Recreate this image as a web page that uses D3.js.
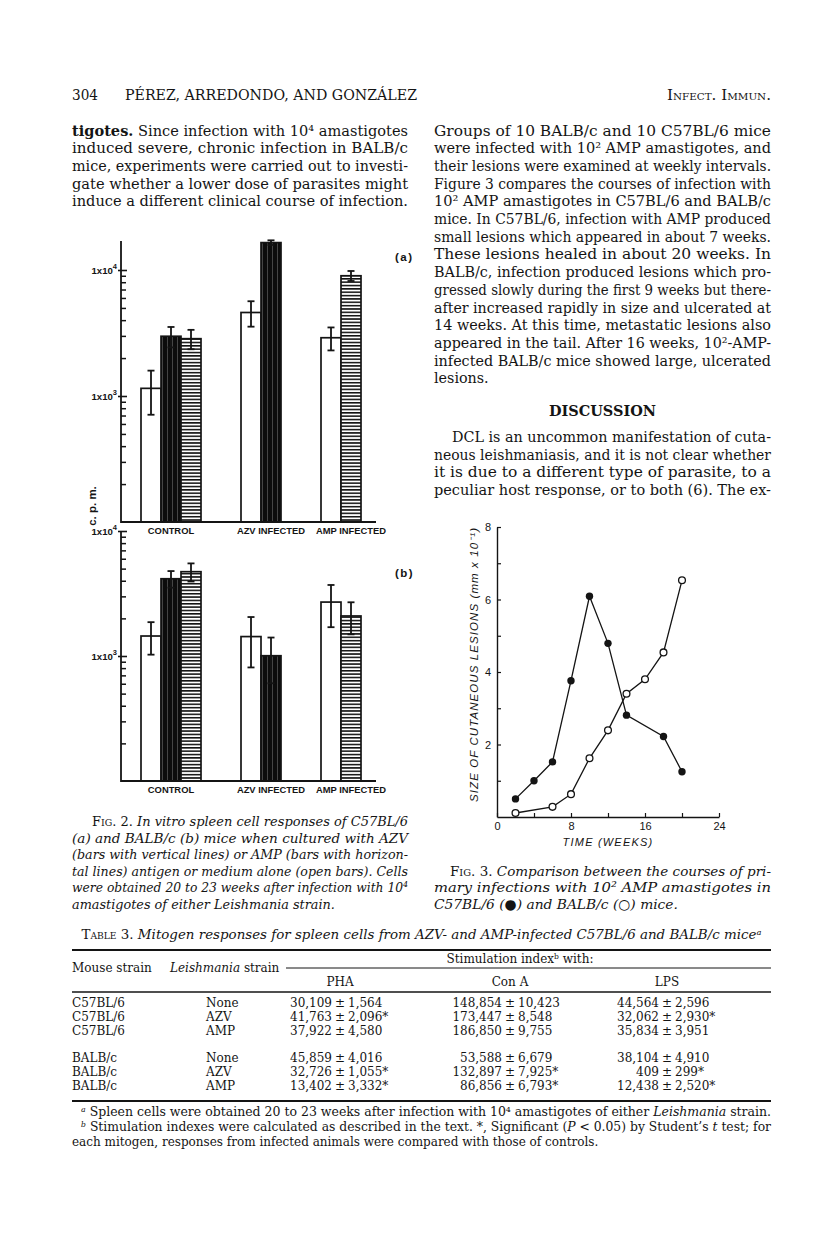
<!DOCTYPE html>
<html><head><meta charset="utf-8">
<script src="https://cdn.jsdelivr.net/npm/d3@7/dist/d3.min.js"></script>
<style>html,body{margin:0;padding:0;background:#fff}svg{display:block}</style>
</head><body>
<svg id="page" width="816" height="1245"></svg>
<script>
// ================= DATA =================
// Fig. 2 : c.p.m. (log scale), order of antigens: medium (open), AZV (vertical lines), AMP (horizontal lines)
const groups   = ["CONTROL", "AZV INFECTED", "AMP INFECTED"];
const antigens = ["medium", "AZV", "AMP"];
const c57Mean  = [[1150, 2980, 2850], [4600, 16500, null], [2900, null, 9000]];
const c57Err   = [[440, 550, 500], [1050, 700, null], [600, null, 820]];
const balbMean = [[1445, 4150, 4725], [1430, 1005, null], [2700, null, 2090]];
const balbErr  = [[420, 630, 780], [620, 400, null], [1000, null, 600]];
const logMajor = [1000, 10000];
const logMajorExp = ["3", "4"];
const logMinor = [200,300,400,500,600,700,800,900,2000,3000,4000,5000,6000,7000,8000,9000];

// Fig. 3 : size of cutaneous lesions (mm x 10^-1) vs time (weeks)
const weeksC57  = [2, 4, 6, 8, 10, 12, 14, 18, 20];
const sizeC57   = [0.50, 1.00, 1.52, 3.76, 6.09, 4.79, 2.81, 2.22, 1.25];
const weeksBALB = [2, 6, 8, 10, 12, 14, 16, 18, 20];
const sizeBALB  = [0.11, 0.28, 0.63, 1.62, 2.39, 3.40, 3.80, 4.54, 6.53];
const fig3XTicks = [0, 4, 8, 12, 16, 20, 24];
const fig3XLabels = [0, 8, 16, 24];
const fig3YTicks = [1, 2, 3, 4, 5, 6, 7, 8];
const fig3YLabels = [2, 4, 6, 8];

// Table 3
const tableMouse  = ["C57BL/6", "C57BL/6", "C57BL/6", "BALB/c", "BALB/c", "BALB/c"];
const tableStrain = ["None", "AZV", "AMP", "None", "AZV", "AMP"];
const mitogens    = ["PHA", "Con A", "LPS"];
const phaMean  = [30109, 41763, 37922, 45859, 32726, 13402];
const phaSE    = [1564, 2096, 4580, 4016, 1055, 3332];
const phaSig   = [0, 1, 0, 0, 1, 1];
const conAMean = [148854, 173447, 186850, 53588, 132897, 86856];
const conASE   = [10423, 8548, 9755, 6679, 7925, 6793];
const conASig  = [0, 0, 0, 0, 1, 1];
const lpsMean  = [44564, 32062, 35834, 38104, 409, 12438];
const lpsSE    = [2596, 2930, 3951, 4910, 299, 2520];
const lpsSig   = [0, 1, 0, 0, 1, 1];

// Text (markup: #bold#  _italic_  ~smallcaps~  =roman=  »indent  ¶ragged end)
const leftText = [
  "#tigotes.# Since infection with 10⁴ amastigotes",
  "induced severe, chronic infection in BALB/c",
  "mice, experiments were carried out to investi-",
  "gate whether a lower dose of parasites might",
  "induce a different clinical course of infection."
];
const rightText1 = [
  "Groups of 10 BALB/c and 10 C57BL/6 mice",
  "were infected with 10² AMP amastigotes, and",
  "their lesions were examined at weekly intervals.",
  "Figure 3 compares the courses of infection with",
  "10² AMP amastigotes in C57BL/6 and BALB/c",
  "mice. In C57BL/6, infection with AMP produced",
  "small lesions which appeared in about 7 weeks.",
  "These lesions healed in about 20 weeks. In",
  "BALB/c, infection produced lesions which pro-",
  "gressed slowly during the first 9 weeks but there-",
  "after increased rapidly in size and ulcerated at",
  "14 weeks. At this time, metastatic lesions also",
  "appeared in the tail. After 16 weeks, 10²-AMP-",
  "infected BALB/c mice showed large, ulcerated",
  "lesions.¶"
];
const discussionHead = "DISCUSSION";
const rightText2 = [
  "»DCL is an uncommon manifestation of cuta-",
  "neous leishmaniasis, and it is not clear whether",
  "it is due to a different type of parasite, to a",
  "peculiar host response, or to both (6). The ex-"
];
const fig2Caption = [
  "»=F=~ig~=. 2.= In vitro spleen cell responses of C57BL/6",
  "(a) and BALB/c (b) mice when cultured with AZV",
  "(bars with vertical lines) or AMP (bars with horizon-",
  "tal lines) antigen or medium alone (open bars). Cells",
  "were obtained 20 to 23 weeks after infection with 10⁴",
  "amastigotes of either Leishmania strain.¶"
];
const fig3Caption = [
  "»=F=~ig~=. 3.= Comparison between the courses of pri-",
  "mary infections with 10² AMP amastigotes in",
  "C57BL/6 (=●=) and BALB/c (=○=) mice.¶"
];
const tableTitle = "=T=~able~= 3.= Mitogen responses for spleen cells from AZV- and AMP-infected C57BL/6 and BALB/c miceᵃ";
const footnotes = [
  "»_ᵃ_ Spleen cells were obtained 20 to 23 weeks after infection with 10⁴ amastigotes of either _Leishmania_ strain.",
  "»_ᵇ_ Stimulation indexes were calculated as described in the text. *, Significant (_P_ < 0.05) by Student’s _t_ test; for",
  "each mitogen, responses from infected animals were compared with those of controls.¶"
];

// ================= RENDER =================
const SERIF = "'DejaVu Serif','Liberation Serif',serif";
const SANS = "'Liberation Sans',Arial,Helvetica,sans-serif";
const INK = "#141414";
const svg = d3.select("#page");
svg.append("rect").attr("width", 816).attr("height", 1245).attr("fill", "#fff");

function rich(parent, str, x, y, o) {
  const t = parent.append("text").attr("x", x).attr("y", y)
    .attr("font-family", o.family || SERIF).attr("font-size", o.size)
    .attr("font-style", o.italic ? "italic" : "normal")
    .attr("font-weight", o.weight || "normal")
    .attr("text-anchor", o.anchor || "start").attr("fill", INK);
  const parts = str.split(/(#[^#]+#|_[^_]+_|~[^~]+~|=[^=]+=)/).filter(s => s.length);
  parts.forEach(p => {
    const c = p[0];
    const marked = p.length > 2 && "#_~=".includes(c) && p[p.length - 1] === c;
    const ts = t.append("tspan");
    if (marked) {
      if (c === "#") ts.attr("font-weight", "bold");
      if (c === "_") ts.attr("font-style", o.italic ? "normal" : "italic");
      if (c === "=") ts.attr("font-style", "normal");
      if (c === "~") ts.attr("font-style", "normal").style("font-variant", "small-caps");
    }
    ts.text(marked ? p.slice(1, -1) : p);
  });
  return t;
}

function block(parent, lines, x, y0, lh, width, o) {
  const made = [];
  lines.forEach((raw, i) => {
    let s = raw, indent = 0, ragged = false;
    if (s.startsWith("»")) { s = s.slice(1); indent = o.indent || 16; }
    if (s.endsWith("¶")) { s = s.slice(0, -1); ragged = true; }
    const t = rich(parent, s, x + indent, y0 + i * lh, o);
    made.push({ t, w: t.node().getComputedTextLength(), target: width - indent, ragged });
  });
  const just = made.filter(m => !m.ragged);
  const f = just.length ? d3.mean(just, m => m.target / m.w) : (o.factor || 0.9);
  made.forEach(m => {
    const len = m.ragged ? m.w * Math.min(f, 1) : m.target;
    m.t.attr("textLength", len).attr("lengthAdjust", "spacingAndGlyphs");
  });
  return f;
}
function fit(t, len) { t.attr("textLength", len).attr("lengthAdjust", "spacingAndGlyphs"); return t; }

// ---- layout ----
const L = 72, COLW = 336, R2 = 434, RIGHT = 771;
const BODY = 14.6, LH = 17.7;

// header
fit(rich(svg, "304", L, 100, { size: BODY }), 26);
fit(rich(svg, "PÉREZ, ARREDONDO, AND GONZÁLEZ", L + 53, 100, { size: BODY }), 292);
fit(rich(svg, "I~nfect~. I~mmun~.", RIGHT, 100, { size: BODY, anchor: "end" }), 104);

// body text
block(svg, leftText, L, 135.5, LH, COLW, { size: BODY });
block(svg, rightText1, R2, 135.5, LH, RIGHT - R2, { size: BODY });
fit(rich(svg, "#" + discussionHead + "#", (R2 + RIGHT) / 2, 416, { size: BODY, anchor: "middle" }), 107);
block(svg, rightText2, R2, 442, LH, RIGHT - R2, { size: BODY, indent: 18 });

// ================= FIG 2 =================
const fills = ["#fff", "url(#vlines)", "url(#hlines)"];
const defs = svg.append("defs");
const pv = defs.append("pattern").attr("id", "vlines").attr("patternUnits", "userSpaceOnUse")
  .attr("width", 5).attr("height", 10);
pv.append("rect").attr("width", 5).attr("height", 10).attr("fill", "#0c0c0c");
pv.append("rect").attr("x", 2.2).attr("width", 0.6).attr("height", 10).attr("fill", "#6a6a6a");
const ph = defs.append("pattern").attr("id", "hlines").attr("patternUnits", "userSpaceOnUse")
  .attr("width", 10).attr("height", 3.35);
ph.append("rect").attr("width", 10).attr("height", 3.35).attr("fill", "#fff");
ph.append("rect").attr("width", 10).attr("height", 1.55).attr("fill", "#111");

const slots = [];
groups.forEach((g, gi) => {
  if (gi > 0) slots.push("gap" + gi + "a", "gap" + gi + "b");
  antigens.forEach((a, k) => { if (c57Mean[gi][k] != null) slots.push(g + "|" + k); });
});
const x2 = d3.scaleBand().domain(slots).range([141, 361]);
const AX = 121;

function panel(means, errs, y, axisTopVal, tag, tagY, labelY) {
  const g = svg.append("g");
  const y0 = y.range()[0];
  const bars = [];
  groups.forEach((grp, gi) => antigens.forEach((a, k) => {
    if (means[gi][k] != null) bars.push({ gi, k, v: means[gi][k], e: errs[gi][k], slot: grp + "|" + k });
  }));
  g.selectAll("rect.bar").data(bars).join("rect").attr("class", "bar")
    .attr("x", d => x2(d.slot)).attr("width", x2.bandwidth())
    .attr("y", d => y(d.v)).attr("height", d => y0 - y(d.v))
    .attr("fill", d => fills[d.k]).attr("stroke", INK).attr("stroke-width", 1.7);
  const eb = g.selectAll("g.err").data(bars).join("g").attr("class", "err")
    .attr("stroke", INK).attr("stroke-width", 1.8);
  const cx = d => x2(d.slot) + x2.bandwidth() / 2;
  eb.append("line").attr("x1", cx).attr("x2", cx).attr("y1", d => y(d.v + d.e)).attr("y2", d => y(d.v - d.e));
  eb.append("line").attr("x1", d => cx(d) - 3.5).attr("x2", d => cx(d) + 3.5).attr("y1", d => y(d.v + d.e)).attr("y2", d => y(d.v + d.e));
  eb.append("line").attr("x1", d => cx(d) - 3.5).attr("x2", d => cx(d) + 3.5).attr("y1", d => y(d.v - d.e)).attr("y2", d => y(d.v - d.e));

  g.append("line").attr("x1", AX).attr("x2", AX).attr("y1", y0 + 1).attr("y2", y(axisTopVal))
    .attr("stroke", INK).attr("stroke-width", 1.8);
  const minor = g.append("g").attr("transform", `translate(${AX},0)`)
    .call(d3.axisLeft(y).tickValues(logMinor).tickSize(-5).tickFormat(""));
  minor.select(".domain").remove();
  minor.selectAll("line").attr("stroke", INK).attr("stroke-width", 1.5);
  const major = g.append("g").attr("transform", `translate(${AX},0)`)
    .call(d3.axisLeft(y).tickValues(logMajor).tickSize(3).tickFormat(""));
  major.select(".domain").remove();
  major.selectAll("line").attr("stroke", INK).attr("stroke-width", 1.6);
  major.selectAll(".tick").append("line").attr("x1", 0).attr("x2", 6).attr("stroke", INK).attr("stroke-width", 1.6);
  logMajor.forEach((v, i) => {
    const t = g.append("text").attr("x", AX - 4).attr("y", y(v) + 3.8).attr("text-anchor", "end")
      .attr("font-family", SANS).attr("font-weight", "bold").attr("font-size", 9.6).attr("fill", INK);
    t.append("tspan").text("1x10");
    t.append("tspan").attr("font-size", 7.5).attr("dy", -4.5).text(logMajorExp[i]);
  });
  g.append("line").attr("x1", AX).attr("x2", 376).attr("y1", y0).attr("y2", y0)
    .attr("stroke", INK).attr("stroke-width", 1.8);
  groups.forEach((grp, gi) => {
    const first = slots.find(s => s.startsWith(grp + "|"));
    g.append("text").attr("x", x2(first) + 1.5 * x2.bandwidth()).attr("y", labelY)
      .attr("text-anchor", "middle").attr("font-family", SANS).attr("font-weight", "bold")
      .attr("font-size", 9.4).attr("fill", INK).text(grp);
  });
  g.append("text").attr("x", 395).attr("y", tagY).attr("font-family", SANS).attr("font-weight", "bold")
    .attr("font-size", 11.5).attr("letter-spacing", 1.5).attr("fill", INK).text(tag);
}
const yA = d3.scaleLog().domain([100, 10000]).range([522, 270]);
const yB = d3.scaleLog().domain([100, 10000]).range([781, 531]);
panel(c57Mean, c57Err, yA, 17000, "(a)", 261, 534);
panel(balbMean, balbErr, yB, 10000, "(b)", 577, 793);
svg.append("text").attr("transform", "translate(96,506) rotate(-90)").attr("text-anchor", "middle")
  .attr("font-family", SANS).attr("font-weight", "bold").attr("font-size", 11.5).attr("fill", INK).text("c. p. m.");

// caption fig 2
const CAP = 16.6;
block(svg, fig2Caption, L, 826, CAP, COLW, { size: 13.8, italic: true, indent: 20 });

// ================= FIG 3 =================
const x3 = d3.scaleLinear().domain([0, 24]).range([497, 719]);
const y3 = d3.scaleLinear().domain([0, 8]).range([817, 527]);
const f3 = svg.append("g");
const ya = f3.append("g").attr("transform", "translate(497,0)")
  .call(d3.axisLeft(y3).tickValues(fig3YTicks).tickSize(-4).tickSizeOuter(0).tickPadding(6)
    .tickFormat(d => fig3YLabels.includes(d) ? d : ""));
const xa = f3.append("g").attr("transform", "translate(0,817)")
  .call(d3.axisBottom(x3).tickValues(fig3XTicks).tickSize(-4).tickSizeOuter(0).tickPadding(5)
    .tickFormat(d => fig3XLabels.includes(d) ? d : ""));
[ya, xa].forEach(a => {
  a.select(".domain").attr("stroke", INK).attr("stroke-width", 1.4);
  a.selectAll(".tick line").attr("stroke", INK).attr("stroke-width", 1.2);
  a.selectAll("text").attr("font-family", SANS).attr("font-size", 11).attr("fill", INK);
});
const line3 = d3.line().x(d => x3(d[0])).y(d => y3(d[1]));
const ptsC57 = weeksC57.map((w, i) => [w, sizeC57[i]]);
const ptsBALB = weeksBALB.map((w, i) => [w, sizeBALB[i]]);
f3.append("path").attr("d", line3(ptsC57)).attr("fill", "none").attr("stroke", INK).attr("stroke-width", 1.3);
f3.append("path").attr("d", line3(ptsBALB)).attr("fill", "none").attr("stroke", INK).attr("stroke-width", 1.3);
f3.selectAll("circle.c57").data(ptsC57).join("circle").attr("class", "c57")
  .attr("cx", d => x3(d[0])).attr("cy", d => y3(d[1])).attr("r", 3.7).attr("fill", INK);
f3.selectAll("circle.balb").data(ptsBALB).join("circle").attr("class", "balb")
  .attr("cx", d => x3(d[0])).attr("cy", d => y3(d[1])).attr("r", 3.4)
  .attr("fill", "#fff").attr("stroke", INK).attr("stroke-width", 1.3);
const ylab = f3.append("text").attr("transform", "translate(478,665) rotate(-90)").attr("text-anchor", "middle")
  .attr("font-family", SANS).attr("font-style", "italic").attr("font-size", 11.5).attr("fill", INK)
  .text("SIZE OF CUTANEOUS LESIONS (mm x 10⁻¹)");
fit(ylab, 274).attr("lengthAdjust", "spacing");
f3.append("text").attr("x", 608).attr("y", 846).attr("text-anchor", "middle").attr("font-family", SANS)
  .attr("font-style", "italic").attr("font-size", 11).attr("letter-spacing", 1.2).attr("fill", INK).text("TIME (WEEKS)");

// caption fig 3 (aligned with the last three lines of the Fig. 2 legend)
block(svg, fig3Caption, R2, 826 + 3 * CAP, CAP, RIGHT - R2, { size: 13.8, italic: true, indent: 16 });

// ================= TABLE 3 =================
const TS = 12;
fit(rich(svg, tableTitle, (L + RIGHT) / 2, 939, { size: 13.2, italic: true, anchor: "middle" }), 680);
const rule = (y, x1, x2, w) => svg.append("line").attr("x1", x1).attr("x2", x2).attr("y1", y).attr("y2", y)
  .attr("stroke", INK).attr("stroke-width", w);
rule(950, L, RIGHT, 1.8);
rule(968, 286, RIGHT, 1);
rule(992, L, RIGHT, 1.6);
rule(1101, L, RIGHT, 1.8);
const colC = [340, 510, 667];
rich(svg, "Stimulation indexᵇ with:", 520, 963, { size: TS, anchor: "middle" });
rich(svg, "Mouse strain", L, 972, { size: TS });
rich(svg, "_Leishmania_ strain", 170, 972, { size: TS });
mitogens.forEach((m, i) => rich(svg, m, colC[i], 986, { size: TS, anchor: "middle" }));
const rowY = [1007, 1021, 1035, 1062, 1076, 1090];
const fmt = d3.format(",");
const cols = [[phaMean, phaSE, phaSig], [conAMean, conASE, conASig], [lpsMean, lpsSE, lpsSig]];
tableMouse.forEach((m, r) => {
  rich(svg, m, L, rowY[r], { size: TS });
  rich(svg, tableStrain[r], 206, rowY[r], { size: TS });
  cols.forEach((c, ci) => {
    rich(svg, fmt(c[0][r]), colC[ci] - 8, rowY[r], { size: TS, anchor: "end" });
    rich(svg, "±", colC[ci], rowY[r], { size: TS, anchor: "middle" });
    rich(svg, fmt(c[1][r]) + (c[2][r] ? "*" : ""), colC[ci] + 8, rowY[r], { size: TS });
  });
});
block(svg, footnotes, L, 1116, 15, RIGHT - L, { size: 12, indent: 9 });
</script>
</body></html>
